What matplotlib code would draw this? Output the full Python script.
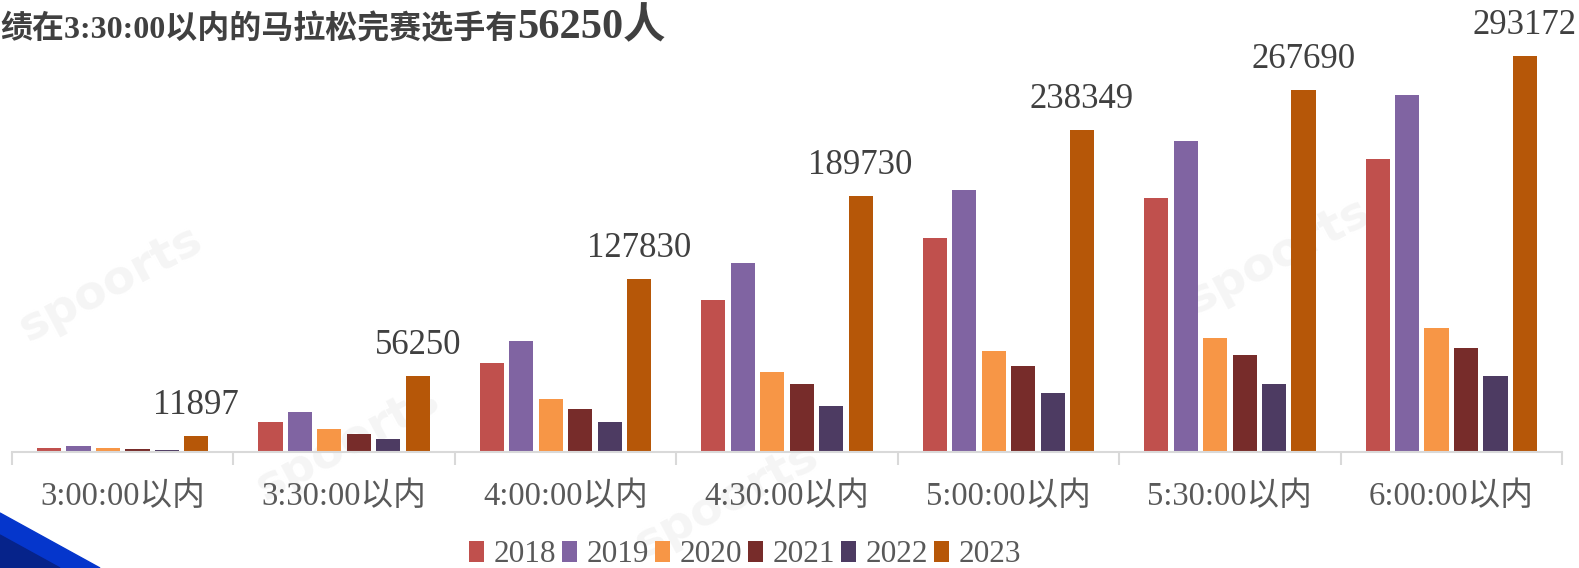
import numpy as np
import matplotlib.pyplot as plt
from matplotlib.patches import Polygon

plt.rcParams['font.family'] = ['Liberation Serif', 'Noto Sans CJK SC', 'DejaVu Sans']

# -----------------------------
# Data
# -----------------------------
categories = ["3:00:00以内", "3:30:00以内", "4:00:00以内", "4:30:00以内",
              "5:00:00以内", "5:30:00以内", "6:00:00以内"]
years = ["2018", "2019", "2020", "2021", "2022", "2023"]

v2018 = [3000, 22000, 65600, 112600, 158100, 188000, 217000]
v2019 = [4500, 29400, 82000, 140200, 194000, 230500, 264000]
v2020 = [3000, 16800, 39500, 58900, 74600, 84300, 91800]
v2021 = [2000, 13100, 32000, 50000, 63400, 71600, 76800]
v2022 = [1300, 9400, 22400, 34300, 44000, 50000, 56000]
v2023 = [11897, 56250, 127830, 189730, 238349, 267690, 293172]

series = [v2018, v2019, v2020, v2021, v2022, v2023]
colors = ["#C0504D", "#8064A2", "#F79646", "#772C2A", "#4D3B62", "#B65708"]

# -----------------------------
# Figure
# -----------------------------
W, H = 1579, 568
fig = plt.figure(figsize=(W / 100, H / 100), dpi=100)
ax = fig.add_axes([12 / W, 1 - 452 / H, 1550 / W, 396 / H])

# very faint watermark, kept under the bars
for (wx, wy) in [(0.07, 0.50), (0.22, 0.22), (0.46, 0.12), (0.81, 0.55)]:
    ax.text(wx, wy, "spoorts", fontsize=34, fontweight="bold", color="#f5f5f5",
            rotation=28, ha="center", va="center", family="DejaVu Sans",
            transform=fig.transFigure, zorder=1)

x = np.arange(len(categories))
pitch = 0.133
bw = 0.109
for j, (vals, c, yr) in enumerate(zip(series, colors, years)):
    ax.bar(x + (j - 2.5) * pitch, vals, width=bw, color=c, label=yr, zorder=2)

# labels on 2023 bars
for xi, v in zip(x + 2.5 * pitch, v2023):
    ax.annotate(f"{v}", (xi, v), xytext=(0, 16), textcoords="offset points",
                ha="center", va="baseline", fontsize=25, color="#404040",
                annotation_clip=False)

ax.set_xlim(-0.5, len(categories) - 0.5)
ax.set_ylim(0, 293172)
ax.set_yticks([])
for s in ["top", "right", "left"]:
    ax.spines[s].set_visible(False)
ax.spines["bottom"].set_color("#d9d9d9")
ax.spines["bottom"].set_linewidth(1.5)

ax.set_xticks(x)
ax.set_xticklabels(categories, fontsize=23.5, color="#595959")
ax.tick_params(axis="x", which="major", length=0, pad=21)
ax.set_xticks(np.arange(-0.5, len(categories)), minor=True)
ax.tick_params(axis="x", which="minor", length=9.5, width=1.5, color="#d9d9d9")
ax.patch.set_alpha(0)

# legend
fig.legend(loc="center", bbox_to_anchor=(745 / W, 1 - 555 / H), ncol=6, frameon=False,
           fontsize=22.5, handlelength=0.48, handleheight=0.64, handletextpad=0.3,
           columnspacing=0.2, labelcolor="#595959")

# title (cut off on the left as in the source)
t1 = fig.text(0, 1 - 38 / H, "绩在3:30:00以内的马拉松完赛选手有", fontsize=23,
              fontweight="bold", color="#404040", va="baseline", ha="left")
fig.canvas.draw()
bb = t1.get_window_extent()
fig.text(bb.x1 / W, 1 - 38 / H, "56250人", fontsize=30.5, fontweight="bold",
         color="#404040", va="baseline", ha="left")

# blue corner decoration
fig.patches.append(Polygon([[0, 1 - 513 / H], [100 / W, 0], [0, 0]], closed=True,
                           transform=fig.transFigure, color="#0536CC", zorder=0))
fig.patches.append(Polygon([[0, 1 - 535 / H], [60 / W, 0], [0, 0]], closed=True,
                           transform=fig.transFigure, color="#06238A", zorder=0))

fig.savefig("out.png", dpi=100)
